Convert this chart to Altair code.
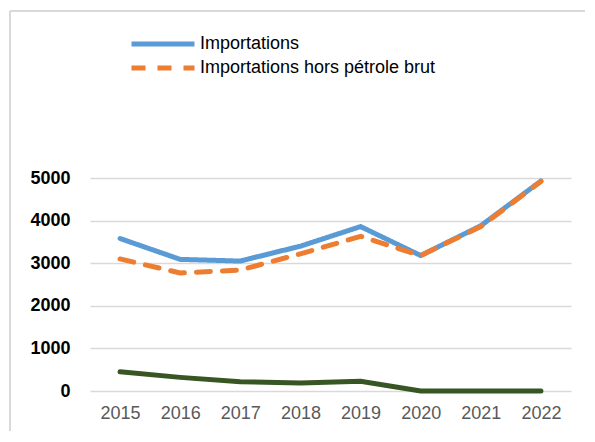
import altair as alt
import pandas as pd

years = ["2015", "2016", "2017", "2018", "2019", "2020", "2021", "2022"]
importations = [3580, 3090, 3050, 3400, 3860, 3180, 3880, 4930]
importations_hors = [3100, 2770, 2840, 3220, 3630, 3180, 3860, 4920]
petrole_brut = [450, 320, 220, 190, 230, 0, 0, 0]

s1 = "Importations"
s2 = "Importations hors pétrole brut"

df = pd.DataFrame(
    {"annee": years * 2,
     "valeur": importations + importations_hors,
     "serie": [s1] * len(years) + [s2] * len(years)}
)
df_green = pd.DataFrame({"annee": years, "valeur": petrole_brut})

FONT = "Liberation Sans"

x_enc = alt.X(
    "annee:O",
    sort=years,
    scale=alt.Scale(type="point", padding=0.5),
    axis=alt.Axis(title=None, labelAngle=0, ticks=False, domain=False,
                  labelColor="#595959", labelFontSize=18, labelFont=FONT,
                  labelPadding=13, grid=False),
)
y_enc = alt.Y(
    "valeur:Q",
    scale=alt.Scale(domain=[0, 5000], nice=False),
    axis=alt.Axis(title=None, values=[0, 1000, 2000, 3000, 4000, 5000],
                  format="d", ticks=False, domain=False, labelFontWeight="bold",
                  labelColor="#000000", labelFontSize=18, labelFont=FONT,
                  labelPadding=20, gridColor="#d9d9d9", gridWidth=1.5),
)

legend_cfg = dict(
    title=None, orient="none", legendX=60, legendY=-147,
    symbolType="M-3,0H3", symbolSize=441, symbolStrokeWidth=5,
    labelFontSize=18, labelFont=FONT, labelColor="#000000",
    rowPadding=1, labelOffset=24, labelLimit=0,
)

green = alt.Chart(df_green).mark_line(
    color="#375623", strokeWidth=5, strokeCap="round"
).encode(x=x_enc, y=y_enc)

main = alt.Chart(df).mark_line(strokeWidth=5, strokeCap="round").encode(
    x=x_enc,
    y=y_enc,
    color=alt.Color(
        "serie:N",
        scale=alt.Scale(domain=[s1, s2], range=["#5B9BD5", "#ED7D31"]),
        legend=alt.Legend(**legend_cfg),
    ),
    strokeDash=alt.StrokeDash(
        "serie:N",
        scale=alt.Scale(domain=[s1, s2], range=[[1, 0], [14, 12]]),
        legend=alt.Legend(**legend_cfg),
    ),
    order=alt.Order("serie:N"),
)

border_top = alt.Chart(df_green).mark_rule(color="#d9d9d9", strokeWidth=1.5, clip=False).encode(
    x=alt.value(-80), x2=alt.value(500), y=alt.value(-167)
)
border_left = alt.Chart(df_green).mark_rule(color="#d9d9d9", strokeWidth=1.5, clip=False).encode(
    x=alt.value(-80), y=alt.value(-167), y2=alt.value(260)
)

chart = alt.layer(border_top, border_left, green, main).properties(
    width=481, height=213,
    padding={"left": 82, "top": 170, "right": 14, "bottom": 40},
    autosize=alt.AutoSizeParams(type="none"),
    background="#ffffff",
).configure_view(stroke=None)

chart.save("out.html", embed_options={"renderer": "svg", "actions": False})
